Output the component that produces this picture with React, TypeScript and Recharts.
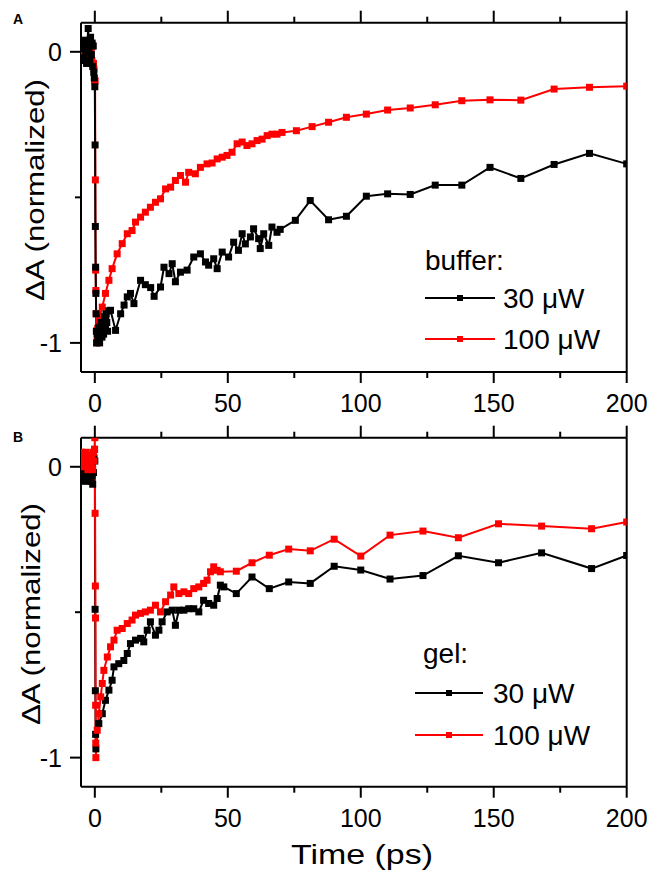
import React from "react";
import { LineChart, Line, XAxis, YAxis } from "recharts";

// time axis (ps) and normalized dA for each trace
const bufferLowT = [-4.9, -4.6, -4.3, -4.0, -3.7, -3.4, -3.1, -2.8, -2.5, -2.2, -1.9, -1.6, -1.3, -1.0, -0.8, -0.6, -0.4, -0.2, 0.0, 0.1, 0.2, 0.3, 0.4, 0.5, 0.6, 0.7, 0.9, 1.2, 1.5, 1.8, 2.1, 2.4, 2.7, 3.0, 3.3, 3.6, 3.9, 4.2, 4.5, 4.8, 5.2, 5.9, 7.8, 9.7, 11.0, 12.2, 13.4, 14.7, 17.2, 19.0, 21.0, 22.3, 24.7, 26.0, 27.9, 29.1, 30.3, 32.2, 34.7, 37.2, 39.7, 41.6, 42.8, 44.7, 46.0, 47.9, 50.3, 52.2, 54.0, 55.4, 56.6, 58.5, 59.7, 61.6, 62.2, 63.5, 65.4, 66.6, 68.5, 69.7, 75.4, 81.0, 87.9, 94.6, 102.1, 110.1, 118.6, 128.0, 138.0, 148.6, 160.2, 172.7, 186.0, 200.0]
const bufferLowV = [0.01, -0.03, 0.02, -0.02, 0.04, 0.0, -0.04, 0.03, 0.08, 0.01, -0.03, 0.05, -0.01, 0.03, -0.05, 0.02, -0.07, -0.09, -0.12, -0.32, -0.6, -0.74, -0.83, -0.9, -0.96, -1.0, -0.97, -0.99, -0.95, -1.0, -0.96, -0.93, -0.98, -0.94, -0.97, -0.91, -0.95, -0.9, -0.93, -0.96, -0.89, -0.888, -0.957, -0.9, -0.87, -0.842, -0.83, -0.865, -0.785, -0.8, -0.81, -0.84, -0.808, -0.74, -0.762, -0.728, -0.79, -0.757, -0.75, -0.705, -0.694, -0.722, -0.733, -0.711, -0.745, -0.688, -0.705, -0.654, -0.682, -0.625, -0.66, -0.636, -0.608, -0.642, -0.676, -0.625, -0.665, -0.602, -0.62, -0.61, -0.579, -0.511, -0.577, -0.565, -0.496, -0.488, -0.49, -0.458, -0.458, -0.397, -0.435, -0.387, -0.349, -0.385]

const bufferHighT = [-5.0, -4.7, -4.4, -4.1, -3.8, -3.5, -3.2, -2.9, -2.6, -2.3, -2.0, -1.7, -1.4, -1.1, -0.8, -0.5, -0.3, -0.1, 0.1, 0.2, 0.3, 0.4, 0.5, 0.6, 0.7, 0.9, 1.1, 1.5, 2.8, 4.0, 5.3, 6.5, 8.4, 10.3, 12.2, 14.0, 15.3, 17.2, 19.0, 20.9, 22.8, 24.7, 26.6, 28.5, 30.3, 32.2, 34.1, 35.3, 37.8, 39.7, 42.2, 44.1, 46.0, 47.9, 49.7, 51.6, 53.5, 55.4, 57.2, 59.1, 61.0, 62.9, 64.8, 66.6, 68.5, 70.4, 75.8, 81.7, 87.9, 94.6, 102.1, 110.1, 118.6, 128.0, 138.0, 148.6, 160.2, 172.7, 186.0, 200.0]
const bufferHighV = [0.0, 0.02, -0.02, 0.01, -0.03, 0.03, 0.0, -0.02, 0.02, -0.01, 0.03, -0.02, 0.01, -0.03, 0.02, -0.04, -0.06, -0.1, -0.1, -0.44, -0.75, -0.82, -0.9, -0.96, -1.0, -0.98, -0.95, -0.922, -0.877, -0.83, -0.785, -0.745, -0.694, -0.659, -0.625, -0.614, -0.585, -0.568, -0.551, -0.534, -0.517, -0.505, -0.471, -0.465, -0.442, -0.425, -0.448, -0.414, -0.419, -0.397, -0.385, -0.382, -0.368, -0.362, -0.356, -0.345, -0.316, -0.31, -0.322, -0.316, -0.305, -0.3, -0.288, -0.283, -0.283, -0.277, -0.271, -0.257, -0.242, -0.225, -0.214, -0.2, -0.193, -0.182, -0.168, -0.165, -0.166, -0.128, -0.122, -0.118]

const gelLowT = [-5.0, -4.7, -4.4, -4.1, -3.8, -3.5, -3.2, -2.9, -2.6, -2.3, -2.0, -1.7, -1.4, -1.1, -0.8, -0.5, -0.3, -0.1, 0.0, 0.1, 0.2, 0.3, 0.4, 1.5, 2.8, 4.0, 5.3, 6.5, 7.2, 9.0, 10.9, 12.2, 13.4, 15.3, 17.2, 18.4, 19.7, 20.9, 22.8, 24.1, 25.3, 27.2, 29.1, 30.3, 31.6, 33.5, 35.3, 37.2, 39.1, 40.9, 42.8, 44.7, 46.0, 47.2, 48.5, 53.2, 59.1, 65.6, 72.9, 81.0, 90.0, 100.0, 111.0, 123.4, 136.7, 151.8, 168.0, 186.8, 200.0]
const gelLowV = [-0.01, -0.03, -0.02, -0.04, -0.03, -0.05, -0.02, -0.04, -0.03, -0.01, -0.04, -0.02, -0.05, -0.03, -0.06, -0.02, 0.03, 0.06, 0.02, -0.49, -0.77, -0.92, -0.97, -0.883, -0.849, -0.803, -0.768, -0.734, -0.688, -0.677, -0.666, -0.642, -0.608, -0.596, -0.59, -0.602, -0.562, -0.533, -0.579, -0.562, -0.533, -0.499, -0.493, -0.545, -0.493, -0.493, -0.488, -0.488, -0.499, -0.459, -0.47, -0.476, -0.453, -0.407, -0.413, -0.436, -0.379, -0.419, -0.396, -0.401, -0.342, -0.355, -0.386, -0.374, -0.306, -0.33, -0.296, -0.35, -0.305]

const gelHighT = [-5.0, -4.7, -4.4, -4.1, -3.8, -3.5, -3.2, -2.9, -2.6, -2.3, -2.0, -1.7, -1.4, -1.1, -0.8, -0.5, -0.3, -0.1, 0.0, 0.1, 0.2, 0.25, 0.3, 0.35, 0.4, 0.9, 1.5, 2.2, 2.8, 3.4, 4.7, 5.9, 7.2, 8.4, 10.3, 12.2, 14.0, 15.3, 17.2, 19.0, 20.9, 22.8, 24.7, 26.6, 28.5, 29.7, 31.6, 33.5, 35.3, 37.2, 39.1, 40.9, 42.2, 43.5, 44.7, 46.0, 47.2, 53.2, 59.1, 65.6, 72.9, 81.0, 90.0, 100.0, 111.0, 123.4, 136.7, 151.8, 168.0, 186.8, 200.0]
const gelHighV = [0.05, 0.02, 0.04, 0.0, 0.03, 0.01, 0.05, 0.02, -0.01, 0.03, 0.0, 0.04, 0.01, 0.03, -0.01, 0.05, 0.02, 0.06, 0.1, -0.16, -0.41, -0.52, -0.82, -0.95, -1.0, -0.906, -0.849, -0.791, -0.745, -0.7, -0.654, -0.619, -0.596, -0.562, -0.556, -0.539, -0.527, -0.51, -0.504, -0.499, -0.493, -0.476, -0.499, -0.464, -0.441, -0.413, -0.436, -0.43, -0.436, -0.419, -0.413, -0.401, -0.39, -0.361, -0.344, -0.356, -0.361, -0.359, -0.33, -0.304, -0.283, -0.289, -0.249, -0.307, -0.235, -0.221, -0.244, -0.196, -0.204, -0.213, -0.19]

const xTicks = [0, 25, 50, 75, 100, 125, 150, 175, 200]
const yTicks = [-1, -0.5, 0]
const legendLabels = ["30 μW", "100 μW"]

const X_DOMAIN: [number, number] = [-5.2, 200]
const Y_DOMAIN: [number, number] = [-1.1, 0.1]
const BLACK = "#000000"
const RED = "#ff0000"
const FONT = "'Liberation Sans', Arial, sans-serif"
const MARK = 7

const rows = (t: number[], v: number[]) => t.map((x, i) => ({ t: x, v: v[i] }))

const square = (color: string) => (p: any) => {
  const { cx, cy, index } = p
  if (cx == null || cy == null) return <g key={index} />
  return <rect key={index} x={cx - MARK / 2} y={cy - MARK / 2} width={MARK} height={MARK} fill={color} />
}

const axisStyle = { stroke: BLACK, strokeWidth: 2 }

function BottomTick(props: any) {
  const { x, y, payload } = props
  const major = payload.value % 50 === 0
  return (
    <g>
      <line x1={x} x2={x} y1={y} y2={y + (major ? 11 : 6)} stroke={BLACK} strokeWidth={2} />
      {major && (
        <text x={x} y={y + 40} textAnchor="middle" fontSize={25} fontFamily={FONT} fill={BLACK}>
          {payload.value}
        </text>
      )}
    </g>
  )
}

function TopTick(props: any) {
  const { x, y, payload } = props
  const major = payload.value % 50 === 0
  return <line x1={x} x2={x} y1={y} y2={y - (major ? 12 : 6)} stroke={BLACK} strokeWidth={2} />
}

function LeftTick(props: any) {
  const { x, y, payload } = props
  const major = Number.isInteger(payload.value)
  return (
    <g>
      <line x1={x} x2={x - (major ? 11 : 6)} y1={y} y2={y} stroke={BLACK} strokeWidth={2} />
      {major && (
        <text x={x - 19} y={y + 9} textAnchor="end" fontSize={25} fontFamily={FONT} fill={BLACK}>
          {String(payload.value)}
        </text>
      )}
    </g>
  )
}

type Trace = { t: number[]; v: number[]; color: string; name: string }

function Panel({ height, margin, traces }: { height: number; margin: any; traces: Trace[] }) {
  return (
    <LineChart width={650} height={height} margin={margin}>
      <XAxis xAxisId="b" dataKey="t" type="number" domain={X_DOMAIN} ticks={xTicks} interval={0} allowDataOverflow
        height={1} tickSize={0} tickMargin={0} tickLine={false} axisLine={axisStyle} tick={BottomTick} />
      <XAxis xAxisId="t" orientation="top" dataKey="t" type="number" domain={X_DOMAIN} ticks={xTicks} interval={0}
        allowDataOverflow height={1} tickSize={0} tickMargin={0} tickLine={false} axisLine={axisStyle} tick={TopTick} />
      <YAxis yAxisId="l" type="number" domain={Y_DOMAIN} ticks={yTicks} interval={0} allowDataOverflow
        width={1} tickSize={0} tickMargin={0} tickLine={false} axisLine={axisStyle} tick={LeftTick} />
      <YAxis yAxisId="r" orientation="right" type="number" domain={Y_DOMAIN} allowDataOverflow
        width={1} tick={false} tickLine={false} axisLine={axisStyle} />
      {traces.map((s) => (
        <Line key={s.name} xAxisId="b" yAxisId="l" data={rows(s.t, s.v)} dataKey="v" type="linear"
          stroke={s.color} strokeWidth={2} dot={square(s.color)} activeDot={false} isAnimationActive={false} />
      ))}
    </LineChart>
  )
}

function LegendBlock({ title, x, y, lineX1, lineX2, rowYs, textX }: any) {
  const colors = [BLACK, RED]
  return (
    <g fontFamily={FONT} fill={BLACK}>
      <text x={x} y={y} fontSize={28}>{title}</text>
      {legendLabels.map((label, i) => (
        <g key={label}>
          <line x1={lineX1} x2={lineX2} y1={rowYs[i]} y2={rowYs[i]} stroke={colors[i]} strokeWidth={2} />
          <rect x={(lineX1 + lineX2) / 2 - 3} y={rowYs[i] - 3} width={6} height={6} fill={colors[i]} />
          <text x={textX} y={rowYs[i] + 10} fontSize={28}>{label}</text>
        </g>
      ))}
    </g>
  )
}

export default function App() {
  const topTraces: Trace[] = [
    { name: "buffer100", t: bufferHighT, v: bufferHighV, color: RED },
    { name: "buffer30", t: bufferLowT, v: bufferLowV, color: BLACK },
  ]
  const bottomTraces: Trace[] = [
    { name: "gel30", t: gelLowT, v: gelLowV, color: BLACK },
    { name: "gel100", t: gelHighT, v: gelHighV, color: RED },
  ]
  return (
    <div style={{ position: "absolute", left: 0, top: 0, width: 650, height: 872, background: "#fff", fontFamily: FONT }}>
      <div style={{ position: "absolute", left: 0, top: 0 }}>
        <Panel height={430} margin={{ top: 21.7, right: 22.3, bottom: 57, left: 80 }} traces={topTraces} />
      </div>
      <div style={{ position: "absolute", left: 0, top: 420 }}>
        <Panel height={452} margin={{ top: 16.7, right: 22.3, bottom: 84.3, left: 80 }} traces={bottomTraces} />
      </div>
      <svg width={650} height={872} style={{ position: "absolute", left: 0, top: 0, pointerEvents: "none" }}>
        <text x={13} y={24} fontSize={14} fontWeight="bold" fontFamily={FONT}>A</text>
        <text x={13} y={442} fontSize={14} fontWeight="bold" fontFamily={FONT}>B</text>
        <text x={44} y={190} transform="rotate(-90, 44, 190)" textAnchor="middle" fontSize={26} fontFamily={FONT}
          textLength={222} lengthAdjust="spacingAndGlyphs">ΔA (normalized)</text>
        <text x={40} y={614} transform="rotate(-90, 40, 614)" textAnchor="middle" fontSize={26} fontFamily={FONT}
          textLength={222} lengthAdjust="spacingAndGlyphs">ΔA (normalized)</text>
        <text x={362} y={864} textAnchor="middle" fontSize={28} fontFamily={FONT}
          textLength={142} lengthAdjust="spacingAndGlyphs">Time (ps)</text>
        <LegendBlock title="buffer:" x={425} y={270} lineX1={425} lineX2={495} rowYs={[298, 339]} textX={503} />
        <LegendBlock title="gel:" x={423} y={663} lineX1={415} lineX2={483} rowYs={[693, 735]} textX={493} />
      </svg>
    </div>
  )
}
